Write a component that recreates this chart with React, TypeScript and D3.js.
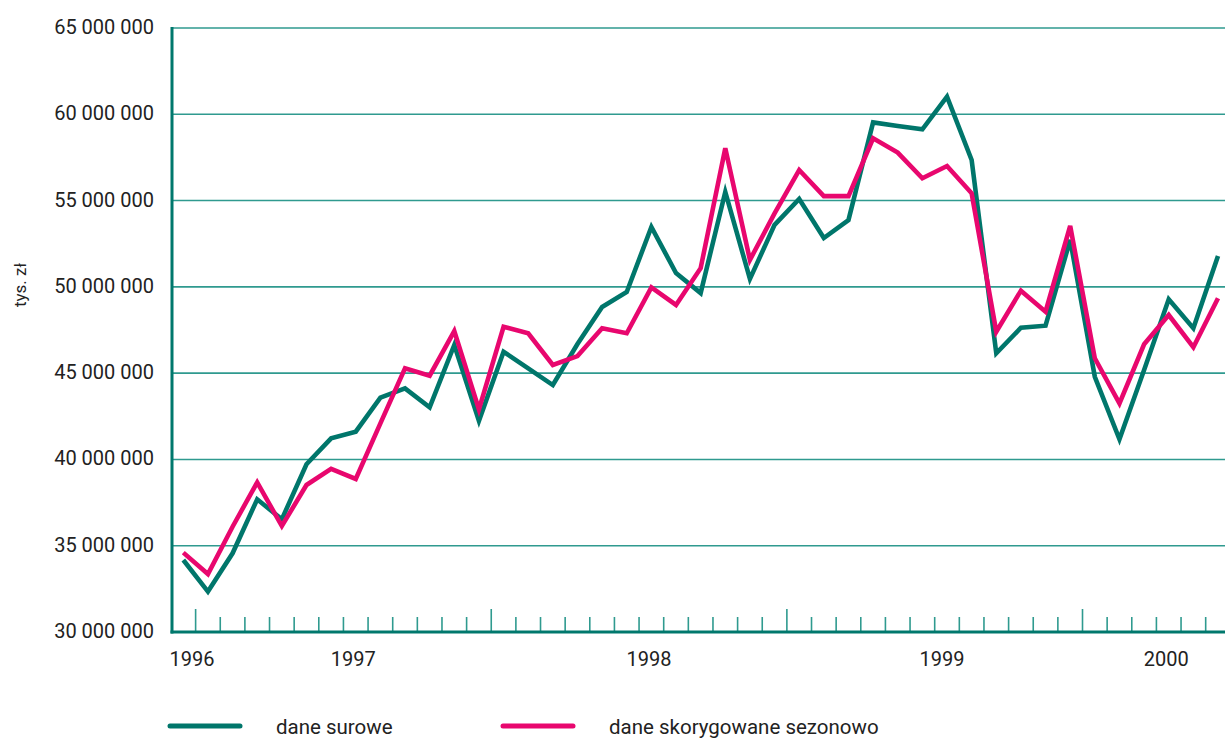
import React from "react";
import * as d3 from "d3";

const WIDTH = 1225;
const HEIGHT = 738;

// monthly values, mln zł (tys. zł / 1000)
const raw = [
  34.17, 32.34, 34.56, 37.69, 36.53, 39.72, 41.22, 41.61, 43.58, 44.12,
  43.02, 46.63, 42.24, 46.24, 45.28, 44.31, 46.69, 48.83, 49.7, 53.47,
  50.8, 49.64, 55.5, 50.46, 53.59, 55.09, 52.83, 53.87, 59.53, 59.32,
  59.13, 61.02, 57.35, 46.15, 47.63, 47.75, 52.72, 44.79, 41.17, 45.18,
  49.28, 47.6, 51.79,
];
const adjusted = [
  34.6, 33.36, 36.1, 38.67, 36.14, 38.52, 39.45, 38.87, 42.09, 45.28,
  44.85, 47.44, 42.9, 47.69, 47.31, 45.47, 45.99, 47.6, 47.31, 49.97,
  48.95, 51.08, 58.03, 51.56, 54.26, 56.77, 55.26, 55.26, 58.61, 57.78,
  56.29, 57.0, 55.42, 47.4, 49.78, 48.56, 53.53, 45.86, 43.25, 46.67,
  48.37, 46.5, 49.34,
];

const yTicks = [30, 35, 40, 45, 50, 55, 60, 65];
const yearLabels = ["1996", "1997", "1998", "1999", "2000"];
const yearLabelAt = [0.35, 6.9, 18.9, 30.8, 39.9];
const tickCount = 42;
const majorEvery = 12;

const seriesNames = ["dane surowe", "dane skorygowane sezonowo"];

const GREEN = "#00766b";
const PINK = "#e8076e";
const GRID = "#2f9a8f";
const AXIS = "#00786d";
const FONT = "Roboto, 'Open Sans', sans-serif";

const margin = { top: 28, left: 172, bottom: 632 };

export default function App() {
  const x = d3
    .scaleLinear()
    .domain([0, raw.length - 1])
    .range([183.3, 1218]);
  const y = d3
    .scaleLinear()
    .domain([30, 65])
    .range([margin.bottom, margin.top]);

  const line = d3
    .line<number>()
    .x((_, i) => x(i))
    .y((d) => y(d));

  const fmt = (v: number) => `${v} 000 000`;

  return (
    <svg
      width={WIDTH}
      height={HEIGHT}
      style={{ position: "absolute", left: 0, top: 0, background: "#fff" }}
    >
      {/* grid */}
      {yTicks.slice(1).map((t) => (
        <line
          key={t}
          x1={margin.left}
          x2={WIDTH}
          y1={y(t)}
          y2={y(t)}
          stroke={GRID}
          strokeWidth={1.6}
        />
      ))}

      {yTicks.map((t) => (
        <text
          key={"l" + t}
          x={154}
          y={y(t) + 6}
          textAnchor="end"
          fontFamily={FONT}
          fontSize={20}
          fill="#222"
        >
          {fmt(t)}
        </text>
      ))}

      <text
        transform="translate(26, 285) rotate(-90)"
        textAnchor="middle"
        fontFamily={FONT}
        fontSize={17}
        fill="#222"
      >
        tys. zł
      </text>

      {/* month ticks */}
      {d3.range(tickCount).map((j) => (
        <line
          key={"t" + j}
          x1={x(j + 0.5)}
          x2={x(j + 0.5)}
          y1={margin.bottom}
          y2={margin.bottom - (j % majorEvery === 0 ? 23 : 15)}
          stroke={GRID}
          strokeWidth={1.6}
        />
      ))}

      {/* axes */}
      <line
        x1={margin.left}
        x2={margin.left}
        y1={margin.top - 1}
        y2={margin.bottom + 1.5}
        stroke={AXIS}
        strokeWidth={3}
      />
      <line
        x1={margin.left - 1.5}
        x2={WIDTH}
        y1={margin.bottom}
        y2={margin.bottom}
        stroke={AXIS}
        strokeWidth={3}
      />

      {yearLabels.map((lab, i) => (
        <text
          key={lab}
          x={x(yearLabelAt[i])}
          y={666}
          textAnchor="middle"
          fontFamily={FONT}
          fontSize={20}
          fill="#222"
        >
          {lab}
        </text>
      ))}

      <path
        d={line(raw) || ""}
        fill="none"
        stroke={GREEN}
        strokeWidth={4.6}
        strokeLinejoin="miter"
      />
      <path
        d={line(adjusted) || ""}
        fill="none"
        stroke={PINK}
        strokeWidth={4.6}
        strokeLinejoin="miter"
      />

      {/* legend */}
      {seriesNames.map((name, i) => {
        const lx = i === 0 ? 170 : 503;
        const tx = i === 0 ? 276 : 609;
        return (
          <g key={name}>
            <line
              x1={lx}
              x2={lx + 70}
              y1={726}
              y2={726}
              stroke={i === 0 ? GREEN : PINK}
              strokeWidth={5}
              strokeLinecap="round"
            />
            <text x={tx} y={734} fontFamily={FONT} fontSize={20.5} fill="#222">
              {name}
            </text>
          </g>
        );
      })}
    </svg>
  );
}
